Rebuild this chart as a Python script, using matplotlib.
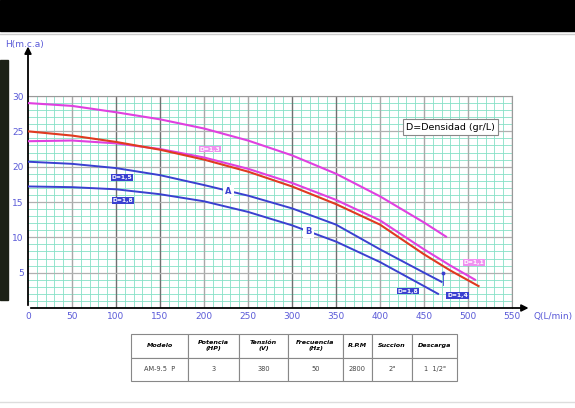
import numpy as np
import matplotlib.pyplot as plt
from matplotlib.patches import Rectangle

# curve data (Q in L/min, H in m.c.a)
q_top = [0, 50, 100, 150, 200, 250, 300, 350, 400, 450, 475]
h_top = [29.0, 28.6, 27.7, 26.7, 25.4, 23.7, 21.6, 19.0, 15.8, 12.1, 10.1]

q_red = [0, 50, 100, 150, 200, 250, 300, 350, 400, 450, 480, 512]
h_red = [25.0, 24.4, 23.5, 22.4, 21.0, 19.3, 17.2, 14.7, 11.8, 7.6, 5.3, 3.1]

q_mag = [0, 50, 100, 150, 200, 250, 300, 350, 400, 450, 480, 508]
h_mag = [23.6, 23.7, 23.3, 22.5, 21.3, 19.7, 17.7, 15.3, 12.4, 8.3, 6.0, 4.0]

q_a = [0, 50, 100, 150, 200, 250, 300, 350, 400, 450, 470]
h_a = [20.7, 20.4, 19.8, 18.8, 17.4, 15.9, 14.1, 11.8, 8.3, 5.0, 3.7]

q_b = [0, 50, 100, 150, 200, 250, 300, 350, 400, 450, 466]
h_b = [17.2, 17.1, 16.8, 16.1, 15.1, 13.6, 11.7, 9.4, 6.5, 3.1, 2.0]

x_ticks = list(range(0, 551, 50))
y_ticks = [5, 10, 15, 20, 25, 30]

col_labels = ["Modelo", "Potencia\n(HP)", "Tensión\n(V)", "Frecuencia\n(Hz)",
              "R.P.M", "Succion", "Descarga"]
row_values = ["AM-9.5  P", "3", "380", "50", "2800", '2"', '1  1/2"']

MAG = "#e040e0"
RED = "#e03a20"
BLUE = "#3a40d0"
TICK = "#5a5ad8"

fig = plt.figure(figsize=(5.75, 4.08), dpi=100)
fig.patch.set_facecolor("white")

# screenshot borders
fig.patches.append(Rectangle((0, 377 / 408), 1, 31 / 408, transform=fig.transFigure,
                             color="black", zorder=0))
fig.patches.append(Rectangle((0, 108 / 408), 8 / 575, 240 / 408, transform=fig.transFigure,
                             color="#1c2116", zorder=0))
fig.lines.append(plt.Line2D([0, 1], [374 / 408, 374 / 408], transform=fig.transFigure,
                            color="#cccccc", lw=1))
fig.lines.append(plt.Line2D([0, 1], [6 / 408, 6 / 408], transform=fig.transFigure,
                            color="#dddddd", lw=1))

ax = fig.add_axes([28 / 575, 100 / 408, 484 / 575, 212 / 408])
ax.set_xlim(0, 550)
ax.set_ylim(0, 30)

# grid
for q in range(10, 550, 10):
    if q % 50:
        ax.axvline(q, color="#86e0c6", lw=0.6, zorder=1)
for h in range(1, 30):
    if h % 5:
        ax.axhline(h, color="#86e0c6", lw=0.6, zorder=1)
for q in range(50, 551, 50):
    c = "#707070" if q in (100, 150, 300, 350) else "#a8a8a8"
    ax.axvline(q, color=c, lw=1.0, zorder=1.5)
for h in range(5, 31, 5):
    ax.axhline(h, color="#b0b0b0", lw=0.9, zorder=1.5)

for s in ["top", "right"]:
    ax.spines[s].set_color("#999999")
ax.spines["left"].set_visible(False)
ax.spines["bottom"].set_visible(False)

# axes with arrows
ax.annotate("", xy=(0, 37.4), xytext=(0, 0), annotation_clip=False,
            arrowprops=dict(arrowstyle="-|>", color="black", lw=1.3,
                            mutation_scale=10))
ax.annotate("", xy=(572, 0), xytext=(0, 0), annotation_clip=False,
            arrowprops=dict(arrowstyle="-|>", color="black", lw=1.3,
                            mutation_scale=10))

ax.set_xticks(x_ticks)
ax.set_yticks(y_ticks)
ax.tick_params(length=0, labelsize=6.5, labelcolor=TICK, pad=3)
fig.text(5 / 575, 1 - 44 / 408, "H(m.c.a)", color=TICK, fontsize=6.5, va="center")
fig.text(533 / 575, 1 - 316 / 408, "Q(L/min)", color=TICK, fontsize=6.5, va="center")

# curves
ax.plot(q_top, h_top, color=MAG, lw=1.5, zorder=3)
ax.plot(q_mag, h_mag, color=MAG, lw=1.5, zorder=3)
ax.plot(q_red, h_red, color=RED, lw=1.5, zorder=3)
ax.plot(q_a, h_a, color=BLUE, lw=1.4, zorder=3)
ax.plot(q_b, h_b, color=BLUE, lw=1.4, zorder=3)

def tag(x, y, s, fc, tc="white"):
    ax.text(x, y, s, fontsize=4.3, fontweight="bold", color=tc, ha="center", va="center",
            zorder=5, bbox=dict(boxstyle="square,pad=0.15", fc=fc, ec="none"))

tag(207, 22.5, "D=1,3", "#f090f0")
tag(507, 6.4, "D=1,1", "#f090f0")
tag(107, 18.5, "D=1,5", BLUE)
tag(108, 15.2, "D=1,8", BLUE)
tag(432, 2.4, "D=1,8", BLUE)
tag(488, 1.8, "D=1,4", BLUE)

for x, y, s in [(228, 16.5, "A"), (319, 10.8, "B")]:
    ax.text(x, y, s, fontsize=6, fontweight="bold", color=BLUE, ha="center", va="center",
            zorder=5, bbox=dict(boxstyle="square,pad=0.25", fc="white", ec="none"))

ax.plot([472, 472], [4.9, 3.3], color=BLUE, lw=0.6, zorder=4)
ax.plot([472], [4.9], "o", color=BLUE, ms=1.8, zorder=4)

ax.text(480, 25.6, "D=Densidad (gr/L)", fontsize=6.8, ha="center", va="center", zorder=6,
        bbox=dict(boxstyle="square,pad=0.35", fc="white", ec="#888888", lw=0.8))

# spec table
tax = fig.add_axes([131 / 575, 27 / 408, 326 / 575, 47 / 408])
tax.axis("off")
widths = np.array([57, 51, 49, 55, 29, 40, 45], dtype=float)
tbl = tax.table(cellText=[row_values], colLabels=col_labels, colWidths=widths / widths.sum(),
                cellLoc="center", bbox=[0, 0, 1, 1])
tbl.auto_set_font_size(False)
for (r, c), cell in tbl.get_celld().items():
    cell.set_edgecolor("#888888")
    cell.set_linewidth(0.8)
    if r == 0:
        cell.get_text().set_fontsize(4.6)
        cell.get_text().set_fontweight("bold")
        cell.get_text().set_fontstyle("italic")
    else:
        cell.get_text().set_fontsize(4.8)
        cell.get_text().set_color("#444444")

fig.savefig("out.png", dpi=100)
